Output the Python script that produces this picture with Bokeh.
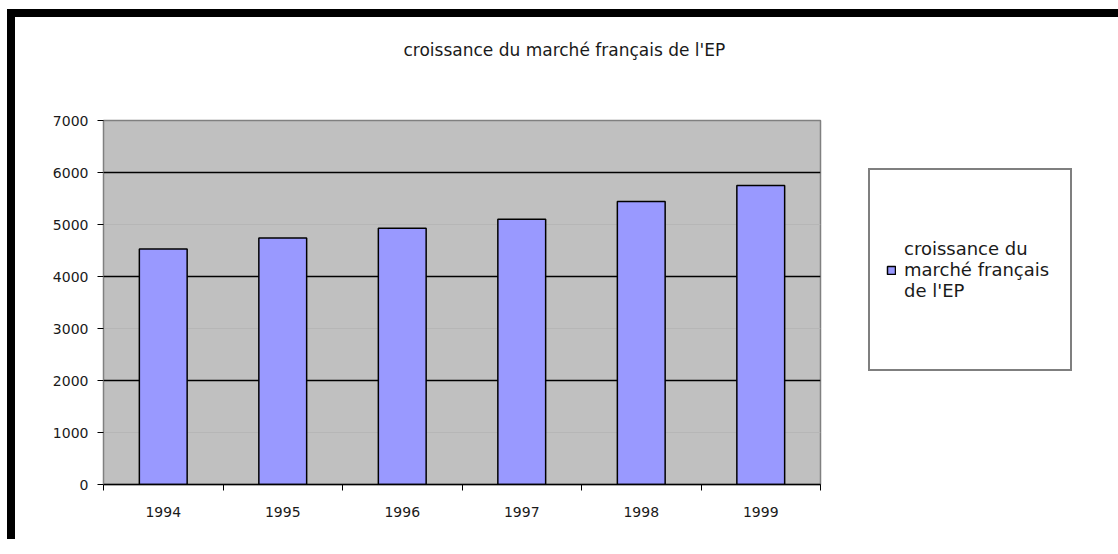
from bokeh.plotting import figure
from bokeh.models import Range1d, FixedTicker, Grid, Legend, LegendItem, ColumnDataSource, Title
from bokeh.embed import file_html
from bokeh.resources import INLINE

# ---- data ----
years = ["1994", "1995", "1996", "1997", "1998", "1999"]
values = [4530, 4740, 4930, 5100, 5440, 5750]
y_ticks = [0, 1000, 2000, 3000, 4000, 5000, 6000, 7000]
major_grid = [2000, 4000, 6000]
faint_grid = [1000, 3000, 5000]
title_text = "croissance du marché français de l'EP"
legend_text = "croissance du\nmarché français\nde l'EP"

FONT = "DejaVu Sans"
TXT = "#1a1a1a"

xs = [i + 0.5 for i in range(len(years))]
src = ColumnDataSource(dict(x=xs, top=values, year=years))

p = figure(frame_width=717, frame_height=364, output_backend="svg", toolbar_location=None,
           x_range=Range1d(0, len(years)), y_range=Range1d(0, y_ticks[-1]),
           min_border_left=88, min_border_right=10, min_border_top=103,
           min_border_bottom=55, title=None,
           styles={"border-top": "8px solid black", "border-left": "8px solid black",
                   "margin-left": "7px", "margin-top": "9px"})

p.background_fill_color = "#C0C0C0"
p.border_fill_color = "white"
p.outline_line_color = "#808080"
p.outline_line_width = 1.5

r = p.vbar(x="x", top="top", width=0.4, bottom=0, source=src,
           fill_color="#9999FF", line_color="black", line_width=1.5)

# spacer between frame and title, then the title itself (stacked outward)
spacer = Title(text=" ", text_font_size="2px", standoff=52)
p.add_layout(spacer, "above")
main_title = Title(text=title_text, align="left", offset=300, standoff=10,
                   text_font=FONT, text_font_size="17px", text_font_style="normal",
                   text_color=TXT)
p.add_layout(main_title, "above")

# x axis
xa = p.xaxis[0]
xa.ticker = FixedTicker(ticks=xs, minor_ticks=list(range(len(years) + 1)))
xa.major_label_overrides = {x: y for x, y in zip(xs, years)}
xa.major_tick_out = 0
xa.major_tick_in = 0
xa.minor_tick_out = 6
xa.minor_tick_in = 0
xa.minor_tick_line_color = "black"
xa.axis_line_color = "black"
xa.axis_line_width = 1.5
xa.major_label_standoff = 16
xa.major_label_text_font = FONT
xa.major_label_text_font_size = "14px"
xa.major_label_text_color = TXT

# y axis
ya = p.yaxis[0]
ya.ticker = FixedTicker(ticks=y_ticks)
ya.minor_tick_line_color = None
ya.major_tick_out = 6
ya.major_tick_in = 0
ya.major_tick_line_color = "black"
ya.axis_line_color = "#808080"
ya.major_label_standoff = 9
ya.major_label_text_font = FONT
ya.major_label_text_font_size = "14px"
ya.major_label_text_color = TXT

# grids
p.xgrid.grid_line_color = None
p.ygrid.ticker = FixedTicker(ticks=major_grid)
p.ygrid.grid_line_color = "black"
p.ygrid.grid_line_width = 1.5
fg = Grid(dimension=1, ticker=FixedTicker(ticks=faint_grid),
          grid_line_color="#b6b6b6", grid_line_width=1)
p.add_layout(fg)

# legend, in the right-hand panel
legend = Legend(items=[LegendItem(label=legend_text, renderers=[r])],
                location="top_left", padding=16, margin=48,
                glyph_width=10, glyph_height=10, label_standoff=8,
                label_width=150, label_height=167,
                border_line_color="black", border_line_width=2,
                label_text_font=FONT, label_text_font_size="18px",
                label_text_line_height=1.35,
                label_text_color=TXT, background_fill_alpha=1)
p.add_layout(legend, "right")

open("out.html", "w").write(file_html(p, INLINE))
